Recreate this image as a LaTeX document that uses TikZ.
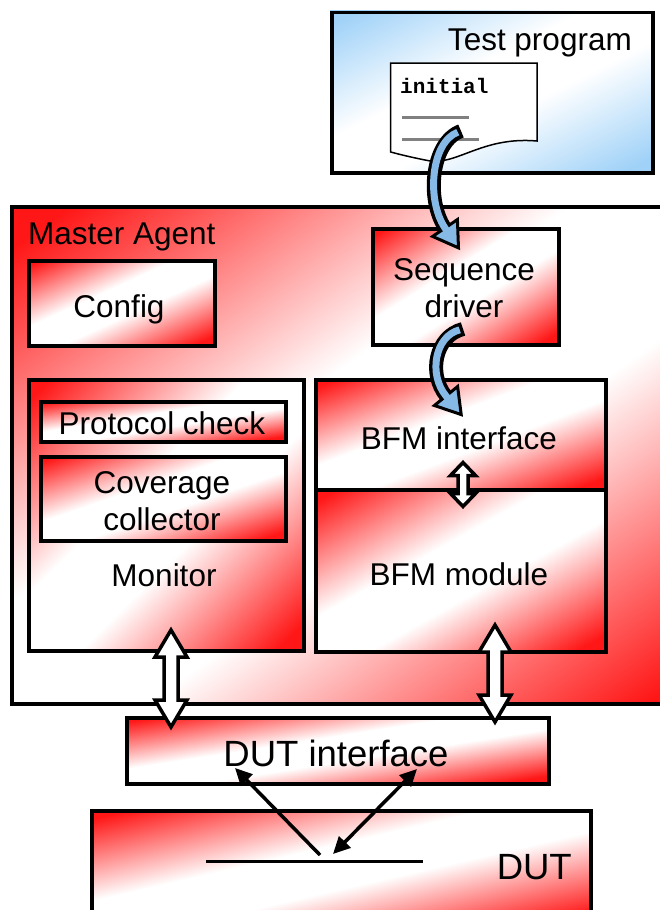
\documentclass[tikz,border=0pt]{standalone}
\usepackage{fontspec}
\setmainfont{Liberation Sans}
\newfontfamily\codefont{Liberation Mono}
\usetikzlibrary{calc,arrows.meta}

\definecolor{testblue}{RGB}{160,210,248}
\definecolor{flowblue}{RGB}{135,185,230}
\definecolor{boxred}{RGB}{255,22,22}
\definecolor{textgray}{RGB}{128,128,128}

% diagonal fills: coloured corners, white middle band
\pgfdeclareverticalshading{diagred}{100bp}{color(0bp)=(boxred); color(17.5bp)=(boxred);
  color(43bp)=(white); color(57bp)=(white); color(82.5bp)=(boxred); color(100bp)=(boxred)}
\pgfdeclareverticalshading{diagblue}{100bp}{color(0bp)=(testblue); color(17.5bp)=(testblue);
  color(43bp)=(white); color(57bp)=(white); color(82.5bp)=(testblue); color(100bp)=(testblue)}

% framed box whose fill runs along its own diagonal
% #1 name, #2 shading, #3 left, #4 top, #5 width, #6 height
\newcommand\gradbox[6]{%
  \shade[shading=#2, shading angle=45,
    transform canvas={shift={(#3,#4)}, xscale=#5/100, yscale=#6/100}]
    (0,0) rectangle (100,100);
  \node[frame, minimum width=#5pt, minimum height=#6pt] (#1) at (#3,#4) {};}

% vertical white block arrow with a head at both ends
% #1 x, #2 top tip, #3 bottom tip, #4 head half width, #5 head length, #6 shaft half width
\newcommand\blockdbl[6]{%
  \draw[dblarrow] (#1,#2) -- (#1+#4,#2+#5) -- (#1+#6,#2+#5) -- (#1+#6,#3-#5)
    -- (#1+#4,#3-#5) -- (#1,#3) -- (#1-#4,#3-#5) -- (#1-#6,#3-#5)
    -- (#1-#6,#2+#5) -- (#1-#4,#2+#5) -- cycle;}

% curved blue block arrow: start, control 1, control 2, end of shaft
\newcommand\flowarrow[4]{%
  \draw[line width=14pt, black] (#1) .. controls (#2) and (#3) .. (#4);
  \filldraw[fill=flowblue, draw=black, line width=3pt, line join=miter]
    ($(#4)!15pt!90:(#3)$) -- ($(#4)!-24pt!(#3)$) -- ($(#4)!15pt!-90:(#3)$) -- cycle;
  \draw[line width=7pt, flowblue, shorten <=3.4pt]
    (#1) .. controls (#2) and (#3) .. (#4) -- ($(#4)!-5pt!(#3)$);}

\begin{document}
\begin{tikzpicture}[x=1pt,y=-1pt,
  frame/.style={draw=black, line width=3.5pt, inner sep=0pt, anchor=north west},
  lbl/.style={font=\fontsize{31.5}{36}\selectfont, anchor=base, inner sep=0pt},
  biglbl/.style={font=\fontsize{36.5}{42}\selectfont, anchor=base, inner sep=0pt},
  dblarrow/.style={draw=black, fill=white, line width=3.5pt, line join=miter},
  link/.style={line width=3.5pt, black},
  ]
\path[use as bounding box] (0,0) rectangle (660,910);
\clip (0,0) rectangle (660,910);
\fill[white] (0,0) rectangle (660,910);

% test program with its source page
\gradbox{testprog}{diagblue}{330}{10.5}{321}{160.5}
\node[lbl, anchor=base east] (testtxt) at (632,50) {Test program};
\filldraw[fill=white, draw=black, line width=1.5pt]
  (390.7,63) -- (537,63) -- (537,141)
  .. controls (480,136) and (455,168) .. (425,160)
  .. controls (410,157) and (398,154) .. (390.7,152) -- cycle;
\node[font=\codefont\bfseries\fontsize{21}{24}\selectfont, anchor=base west, inner sep=0pt]
  (initial) at (400,93) {initial};
\draw[textgray, line width=3.5pt] (402,117.3) -- (469,117.3);
\draw[textgray, line width=3.5pt] (402,139.3) -- (479,139.3);

% master agent
\gradbox{master}{diagred}{10}{205}{700}{497}
\node[lbl, anchor=base west] (mastertxt) at (28,244) {Master Agent};

\gradbox{config}{diagred}{27}{259}{186}{85}
\node[lbl] (configtxt) at (119,317) {Config};

\gradbox{seq}{diagred}{371}{227}{186}{116}
\node[lbl] (seqtxt1) at (464,280) {Sequence};
\node[lbl] (seqtxt2) at (464,317) {driver};

% monitor
\gradbox{monitor}{diagred}{27}{378}{275}{271}
\gradbox{protocol}{diagred}{39}{400}{245}{40}
\node[lbl] (protocoltxt) at (162,434) {Protocol check};
\gradbox{coverage}{diagred}{39}{455}{245}{84}
\node[lbl] (covtxt1) at (162,493) {Coverage};
\node[lbl] (covtxt2) at (162,530) {collector};
\node[lbl] (monitortxt) at (164,586) {Monitor};

% bus functional model
\gradbox{bfmif}{diagred}{314}{378}{290}{110}
\node[lbl] (bfmiftxt) at (459,449) {BFM interface};
\gradbox{bfmmod}{diagred}{314}{488}{290}{162}
\node[lbl] (bfmmodtxt) at (459,585) {BFM module};

% DUT side
\gradbox{dutif}{diagred}{125}{716}{422}{66}
\node[biglbl] (dutiftxt) at (336,766) {DUT interface};
\gradbox{dut}{diagred}{90}{809}{499}{115}
\node[biglbl, anchor=base east] (duttxt) at (572,879) {DUT};

\coordinate (pinA) at (206,861);
\coordinate (pinB) at (423,861);
\draw[line width=3pt] (pinA) -- (pinB);

\coordinate (sigL0) at (320,855);
\coordinate (sigL1) at (235,768);
\coordinate (sigR0) at (333,854);
\coordinate (sigR1) at (417,769);
\draw[link, -{Triangle[length=17pt,width=16pt]}] (sigL0) -- (sigL1);
\draw[link, {Triangle[length=17pt,width=16pt]}-{Triangle[length=17pt,width=16pt]}] (sigR0) -- (sigR1);

% bidirectional links
\blockdbl{171}{630}{727}{16}{27}{7}
\blockdbl{495}{625}{722}{16}{27}{7}
\blockdbl{463}{462.5}{506.5}{12.5}{13}{5}

% stimulus flow
\coordinate (f1s) at (461,131);
\coordinate (f1a) at (431,142);
\coordinate (f1b) at (426,200);
\coordinate (f1e) at (445,228);
\flowarrow{f1s}{f1a}{f1b}{f1e}

\coordinate (f2s) at (463,329);
\coordinate (f2a) at (435,336);
\coordinate (f2b) at (428,374);
\coordinate (f2e) at (446,396);
\flowarrow{f2s}{f2a}{f2b}{f2e}
\end{tikzpicture}
\end{document}
